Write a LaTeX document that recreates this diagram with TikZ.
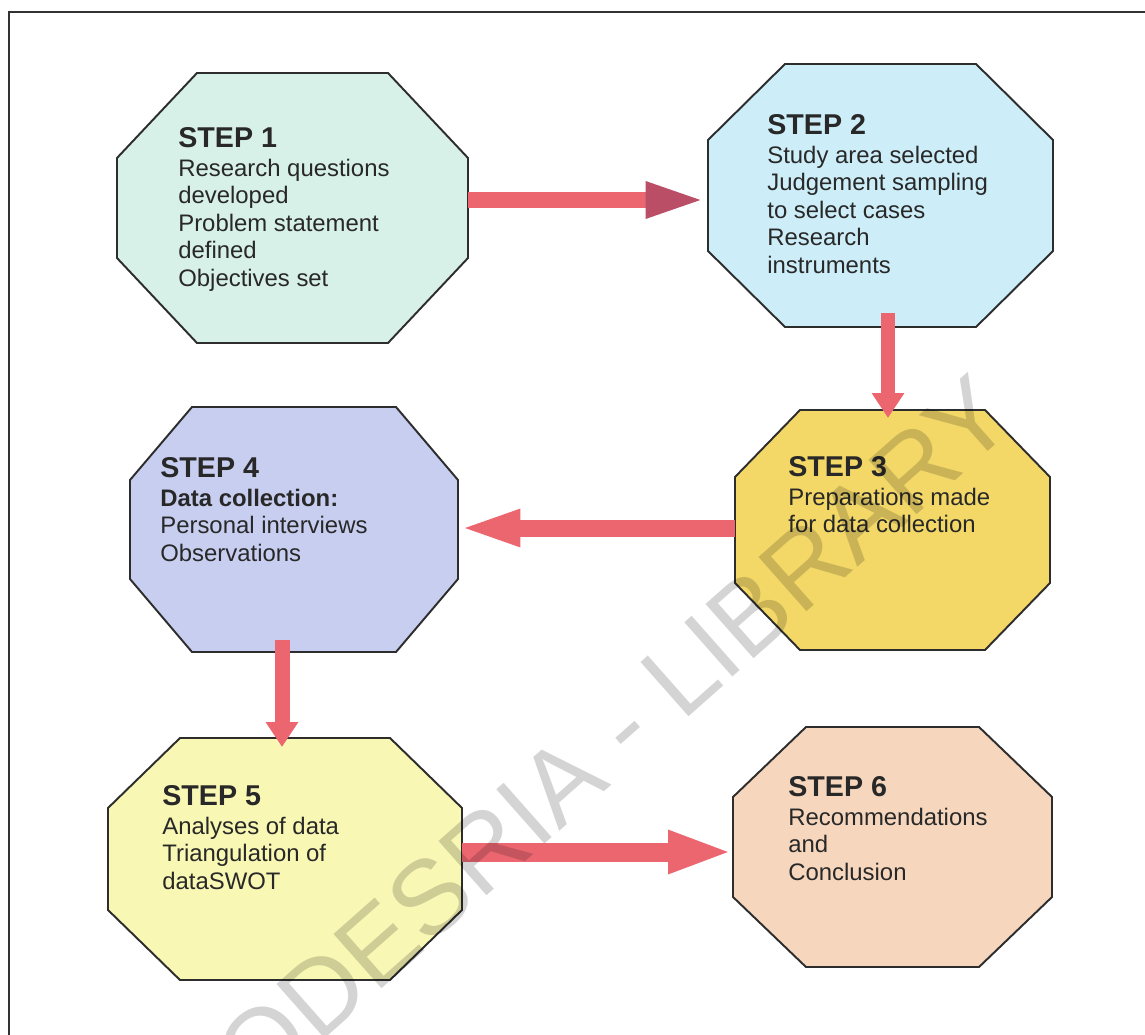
\documentclass[tikz,border=0pt]{standalone}
\usepackage{fontspec}
\setmainfont{Liberation Sans}
\usetikzlibrary{arrows.meta,calc}
\definecolor{frameline}{RGB}{50,50,50}
\definecolor{octedge}{RGB}{45,45,45}
\definecolor{txt}{RGB}{40,40,40}
\definecolor{cOne}{RGB}{215,240,232}
\definecolor{cTwo}{RGB}{205,238,248}
\definecolor{cThree}{RGB}{243,216,104}
\definecolor{cFour}{RGB}{200,206,240}
\definecolor{cFive}{RGB}{248,247,180}
\definecolor{cSix}{RGB}{246,215,190}
\definecolor{arrowc}{RGB}{236,102,112}
\definecolor{arrowdark}{RGB}{185,78,102}
\newcommand\stepoct[8]{%
  \filldraw[octline, fill=#8] (#2+#6,#3) -- (#4-#6,#3) -- (#4,#3+#7) -- (#4,#5-#7)
    -- (#4-#6,#5) -- (#2+#6,#5) -- (#2,#5-#7) -- (#2,#3+#7) -- cycle;
  \node[anchorbox, minimum width={(#4-#2)*0.02cm}, minimum height={(#5-#3)*0.02cm}]
    (#1) at ({(#2+#4)/2},{(#3+#5)/2}) {};
}
\tikzset{
  octline/.style={draw=octedge, line width=1.1pt, line join=miter},
  anchorbox/.style={shape=rectangle, inner sep=0pt, outer sep=0pt},
  steptext/.style={anchor=north west, inner sep=0pt, align=left, text=txt,
    font=\fontsize{13.6pt}{15.6pt}\selectfont},
  hbar/.style={draw=arrowc, line width=0.34cm,
    -{Triangle[length=1.25cm, width=0.66cm]}},
  vbar/.style={draw=arrowc, line width=0.28cm,
    -{Triangle[length=0.5cm, width=0.62cm]}}
}
\newcommand\steptitle[1]{{\fontsize{16.3pt}{15.6pt}\selectfont\bfseries #1}\\[1pt]}
\begin{document}
\begin{tikzpicture}[x=0.02cm, y=-0.02cm]
\useasboundingbox (0,0) rectangle (1145,1034);
\fill[white] (0,0) rectangle (1145,1034);
% frame
\draw[frameline, line width=1.7pt] (9,1040) -- (9,12) -- (1150,12);

% octagons
\stepoct{s1}{117}{73}{468}{343}{80}{85}{cOne}
\stepoct{s2}{708}{64}{1053}{327}{77}{76}{cTwo}
\stepoct{s3}{735}{410}{1050}{650}{65}{67}{cThree}
\stepoct{s4}{130}{407}{458}{652}{62}{73}{cFour}
\stepoct{s5}{108}{738}{462}{980}{72}{70}{cFive}
\stepoct{s6}{733}{727}{1052}{967}{73}{70}{cSix}

% texts
\node[steptext] (t1) at (178,127) {\steptitle{STEP 1}Research questions\\developed\\Problem statement\\defined\\Objectives set};
\node[steptext] (t2) at (767,114) {\steptitle{STEP 2}Study area selected\\Judgement sampling\\to select cases\\Research\\instruments};
\node[steptext] (t3) at (788,456) {\steptitle{STEP 3}Preparations made\\for data collection};
\node[steptext] (t4) at (160,457) {\steptitle{STEP 4}\textbf{Data collection:}\\Personal interviews\\Observations};
\node[steptext] (t5) at (162,785) {\steptitle{STEP 5}Analyses of data\\Triangulation of\\dataSWOT};
\node[steptext] (t6) at (788,776) {\steptitle{STEP 6}Recommendations\\and\\Conclusion};

% connectors
\draw[hbar, -{Triangle[length=1.25cm, width=0.64cm, color=arrowdark]}] (s1.east |- 0,200) -- (s2.west |- 0,200);
\draw[vbar, shorten <=-0.28cm, shorten >=-0.16cm] (s2.south -| 888,0) -- (s3.north -| 888,0);
\draw[hbar] (s3.west |- 0,528) -- (s4.east |- 0,528);
\draw[vbar, line width=0.30cm, shorten <=-0.24cm, shorten >=-0.18cm] (s4.south -| 282,0) -- (s5.north -| 282,0);
\draw[hbar, line width=0.38cm, -{Triangle[length=1.3cm, width=0.78cm]}] (s5.east |- 0,852) -- (s6.west |- 0,852);

% watermark
\node[rotate=41.5, text=black, text opacity=0.17, inner sep=0pt,
  font=\fontsize{60pt}{60pt}\selectfont] (wm) at (585,760) {CODESRIA - LIBRARY};
\end{tikzpicture}
\end{document}
